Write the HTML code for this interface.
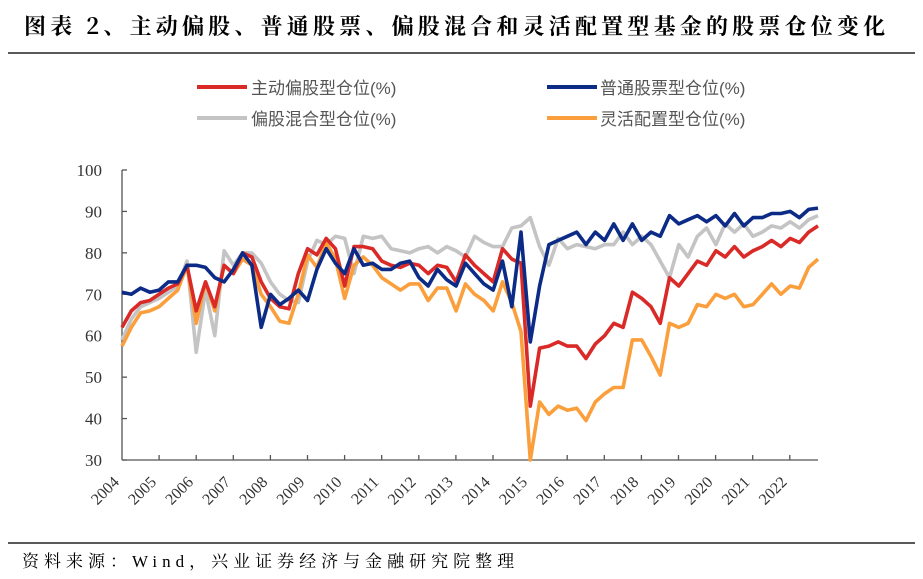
<!DOCTYPE html>
<html><head><meta charset="utf-8"><style>
html,body{margin:0;padding:0;background:#fff;}
svg{display:block;}
</style></head><body>
<svg id="c" width="923" height="579" xmlns="http://www.w3.org/2000/svg">
<text x="24" y="34" font-family="'Noto Serif CJK SC','Liberation Serif',serif" font-size="22" font-weight="bold" fill="#000" letter-spacing="4.2">图表 2、主动偏股、普通股票、偏股混合和灵活配置型基金的股票仓位变化</text>
<line x1="8" y1="53" x2="915" y2="53" stroke="#222" stroke-width="1.5"/>
<line x1="197" y1="87" x2="247" y2="87" stroke="#d92a27" stroke-width="4"/>
<text x="251" y="94" font-family="'Liberation Sans','Noto Sans CJK SC',sans-serif" font-size="17" fill="#555">主动偏股型仓位(%)</text>
<line x1="197" y1="118" x2="247" y2="118" stroke="#c4c4c4" stroke-width="4"/>
<text x="251" y="125" font-family="'Liberation Sans','Noto Sans CJK SC',sans-serif" font-size="17" fill="#555">偏股混合型仓位(%)</text>
<line x1="547" y1="87" x2="597" y2="87" stroke="#0c2b87" stroke-width="4"/>
<text x="600" y="94" font-family="'Liberation Sans','Noto Sans CJK SC',sans-serif" font-size="17" fill="#555">普通股票型仓位(%)</text>
<line x1="547" y1="118" x2="597" y2="118" stroke="#fa9f3c" stroke-width="4"/>
<text x="600" y="125" font-family="'Liberation Sans','Noto Sans CJK SC',sans-serif" font-size="17" fill="#555">灵活配置型仓位(%)</text>
<g id="ax" stroke="#555" stroke-width="1.3" fill="none"></g>
<g id="lab" font-family="'Liberation Serif',serif" font-size="17" fill="#333"></g>
<g id="ser" fill="none" stroke-width="3.6" stroke-linejoin="round"></g>
<line x1="8" y1="543" x2="915" y2="543" stroke="#222" stroke-width="1.5"/>
<text x="22" y="567" font-family="'Liberation Serif','Noto Serif CJK SC',serif" font-size="17" fill="#000" letter-spacing="5">资料来源：Wind，兴业证券经济与金融研究院整理</text>
</svg>
<script>
var NS="http://www.w3.org/2000/svg";
function el(t,a,p){var e=document.createElementNS(NS,t);for(var k in a)e.setAttribute(k,a[k]);p.appendChild(e);return e;}
var x0=122,x1=818,y0=460,yt=170;
function X(i){return x0+i*(x1-x0)/75;}
function Y(v){return y0-(v-30)*(y0-yt)/70;}
var ax=document.getElementById('ax'),lab=document.getElementById('lab'),ser=document.getElementById('ser');
el('line',{x1:x0,y1:yt,x2:x0,y2:y0},ax);
el('line',{x1:x0,y1:y0,x2:x1,y2:y0},ax);
for(var v=30;v<=100;v+=10){el('line',{x1:x0,y1:Y(v),x2:x0+5,y2:Y(v)},ax);
 var t=el('text',{x:102,y:Y(v)+6,'text-anchor':'end'},lab);t.textContent=v;}
for(var k=1;k<=18;k++){var xx=x0+k*37.1;el('line',{x1:xx,y1:y0,x2:xx,y2:y0-5},ax);}
for(var k=0;k<=18;k++){var xx=x0+k*37.1-2;var t=el('text',{x:xx,y:483,'text-anchor':'end',transform:'rotate(-45 '+xx+' 483)','font-size':'16'},lab);t.textContent=2004+k;}
var grey=[59,64,67,68,69,70.5,72,78,56,71,60,80.5,77,80,80,77.5,73,70,68.5,68,78,83,82,84,83.5,75,84,83.5,84,81,80.5,80,81,81.5,80,81.5,80.5,79,84,82.5,81.5,81.5,86,86.5,88.5,81.5,77,83.5,81,82,81.5,81,82,82,85,82,84,82,78,74,82,79,84,86,82,87,85,87,84,85,86.5,86,87.5,86,88,89];
var orange=[57.5,62,65.5,66,67,69,71,77,63,73,66,77,75,78.5,77,70,67,63.5,63,70,79.5,76.5,82.5,78.5,69,77,79,77,74,72.5,71,72.5,72.5,68.5,71.5,71.5,66,72.5,70,68.5,66,73,68,61,30,44,41,43,42,42.5,39.5,44,46,47.5,47.5,59,59,55,50.5,63,62,63,67.5,67,70,69,70,67,67.5,70,72.5,70,72,71.5,76.5,78.5];
var red=[62,66,68,68.5,70,71.5,72.5,77,66,73,67,77,75,80,79,73,69,67,66.5,75,81,79.5,83.5,81,72,81.5,81.5,81,78,77,76.5,77.5,77,75,77,76.5,73,79.5,77,75,73,81,78.5,77.5,43,57,57.5,58.5,57.5,57.5,54.5,58,60,63,62,70.5,69,67,63,74,72,75,78,77,80.5,79,81.5,79,80.5,81.5,83,81.5,83.5,82.5,85,86.5];
var blue=[70.5,70,71.5,70.5,71,73,73,77,77,76.5,74,73,76,80,77,62,70,67.5,69,71,68.5,76,81,77.5,75,81,77,77.5,76,76,77.5,78,74,72,76,73.5,72,77.5,75,72.5,71,78,67,85,58.5,72,82,83,84,85,82,85,83,87,83,87,83,85,84,89,87,88,89,87.5,89,86.5,89.5,86.5,88.5,88.5,89.5,89.5,90,88.5,90.5,90.8];
[[grey,'#c4c4c4'],[orange,'#fa9f3c'],[red,'#d92a27'],[blue,'#0c2b87']].forEach(function(s){
 var p=s[0].map(function(v,i){return X(i).toFixed(1)+','+Y(v).toFixed(1);}).join(' ');
 el('polyline',{points:p,stroke:s[1]},ser);});
</script>
</body></html>
